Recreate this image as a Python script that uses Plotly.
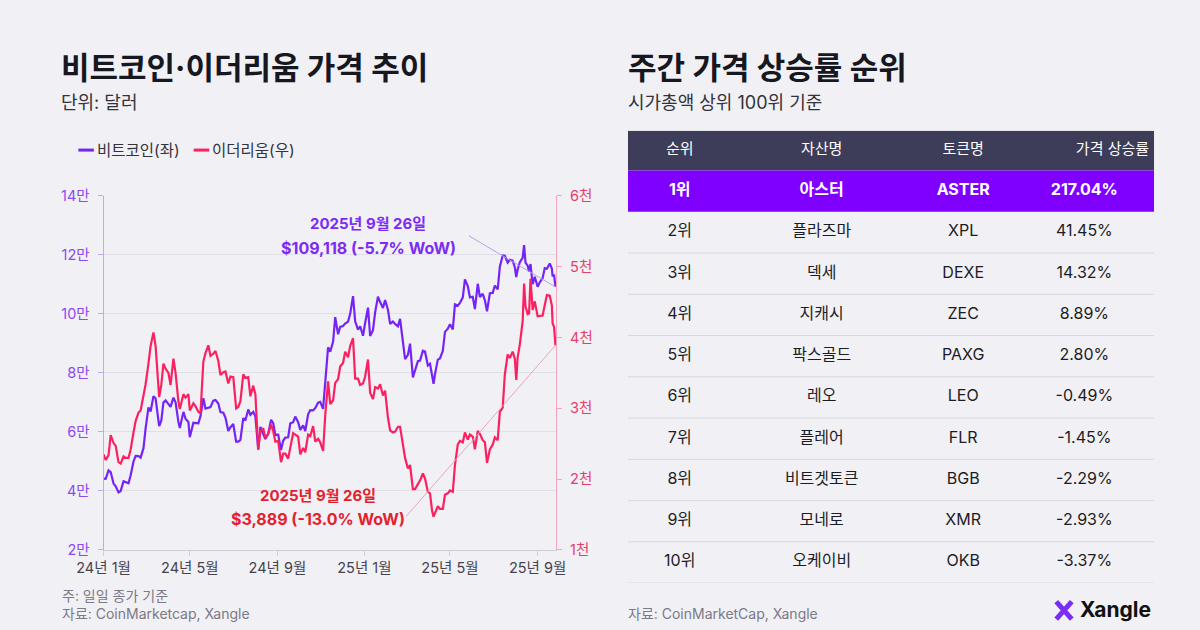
import plotly.graph_objects as go

W, H = 1200, 630


def px(x):
    return x / W


def py(y):
    return 1 - y / H


# ---------------- data ----------------
dates = (
    ["2024-01-01", "2024-01-04", "2024-01-08", "2024-01-11", "2024-01-15", "2024-01-18", "2024-01-22", "2024-01-25", "2024-01-29"]
    + ["2024-02-01", "2024-02-05", "2024-02-08", "2024-02-12", "2024-02-15", "2024-02-19", "2024-02-22", "2024-02-26", "2024-02-29"]
    + ["2024-03-04", "2024-03-07", "2024-03-11", "2024-03-14", "2024-03-19", "2024-03-22", "2024-03-25", "2024-03-28"]
    + ["2024-04-01", "2024-04-04", "2024-04-08", "2024-04-11", "2024-04-15", "2024-04-17", "2024-04-22", "2024-04-25", "2024-04-29"]
    + ["2024-05-01", "2024-05-06", "2024-05-09", "2024-05-13", "2024-05-16", "2024-05-20", "2024-05-23", "2024-05-27", "2024-05-30"]
    + ["2024-06-03", "2024-06-06", "2024-06-10", "2024-06-13", "2024-06-17", "2024-06-20", "2024-06-24", "2024-06-27"]
    + ["2024-07-01", "2024-07-05", "2024-07-08", "2024-07-11", "2024-07-15", "2024-07-18", "2024-07-22", "2024-07-25", "2024-07-29"]
    + ["2024-08-01", "2024-08-05", "2024-08-08", "2024-08-12", "2024-08-15", "2024-08-19", "2024-08-23", "2024-08-26", "2024-08-29"]
    + ["2024-09-02", "2024-09-06", "2024-09-09", "2024-09-12", "2024-09-16", "2024-09-19", "2024-09-23", "2024-09-26", "2024-09-30"]
    + ["2024-10-03", "2024-10-07", "2024-10-10", "2024-10-14", "2024-10-17", "2024-10-21", "2024-10-24", "2024-10-28", "2024-10-31"]
    + ["2024-11-04", "2024-11-07", "2024-11-11", "2024-11-14", "2024-11-18", "2024-11-21", "2024-11-25", "2024-11-28"]
    + ["2024-12-02", "2024-12-05", "2024-12-09", "2024-12-12", "2024-12-16", "2024-12-19", "2024-12-23", "2024-12-26", "2024-12-30"]
    + ["2025-01-02", "2025-01-06", "2025-01-09", "2025-01-13", "2025-01-16", "2025-01-20", "2025-01-23", "2025-01-27", "2025-01-30"]
    + ["2025-02-03", "2025-02-06", "2025-02-10", "2025-02-13", "2025-02-17", "2025-02-20", "2025-02-24", "2025-02-27"]
    + ["2025-03-03", "2025-03-06", "2025-03-10", "2025-03-13", "2025-03-17", "2025-03-20", "2025-03-24", "2025-03-27", "2025-03-31"]
    + ["2025-04-03", "2025-04-06", "2025-04-08", "2025-04-10", "2025-04-14", "2025-04-17", "2025-04-21", "2025-04-24", "2025-04-28"]
    + ["2025-05-01", "2025-05-05", "2025-05-08", "2025-05-12", "2025-05-15", "2025-05-19", "2025-05-22", "2025-05-26", "2025-05-29"]
    + ["2025-06-02", "2025-06-05", "2025-06-09", "2025-06-12", "2025-06-16", "2025-06-19", "2025-06-22", "2025-06-26", "2025-06-30"]
    + ["2025-07-03", "2025-07-07", "2025-07-10", "2025-07-14", "2025-07-17", "2025-07-21", "2025-07-24", "2025-07-28", "2025-07-31"]
    + ["2025-08-02", "2025-08-04", "2025-08-07", "2025-08-11", "2025-08-13", "2025-08-15", "2025-08-18", "2025-08-20", "2025-08-22", "2025-08-25", "2025-08-28"]
    + ["2025-09-01", "2025-09-04", "2025-09-08", "2025-09-11", "2025-09-14", "2025-09-18", "2025-09-21", "2025-09-22", "2025-09-24", "2025-09-26"]
)

btc_usd = (
    [44200, 44100, 47000, 46400, 42500, 41600, 39500, 40000, 43300]
    + [43100, 42600, 45300, 50000, 51900, 51800, 51300, 54500, 61200]
    + [68300, 66900, 72100, 71400, 62000, 63800, 70000, 70700]
    + [69600, 68500, 71600, 70000, 63400, 61300, 66800, 64500, 63400]
    + [58200, 63100, 63000, 62900, 65300, 71400, 67900, 68300, 68400]
    + [70600, 70800, 69600, 66700, 66500, 64900, 60300, 61600]
    + [62700, 56700, 56700, 57300, 64700, 63900, 67600, 65800, 66800]
    + [65300, 54000, 61700, 59300, 57600, 59400, 64100, 63000, 59000]
    + [59100, 53900, 57000, 58100, 58200, 62900, 63300, 65200, 63300]
    + [60700, 62200, 60300, 66000, 67400, 67300, 68100, 69900, 70200]
    + [67800, 76500, 88700, 87200, 90500, 98900, 93100, 95600]
    + [95900, 96700, 97400, 100000, 106000, 97500, 94700, 95800, 92600]
    + [96900, 102100, 92500, 94500, 100500, 105800, 104000, 102000, 104700]
    + [101400, 96600, 97400, 96600, 95800, 98300, 91400, 84700]
    + [86100, 89900, 78500, 80900, 84000, 84200, 87500, 87200, 82500]
    + [83100, 78200, 76300, 79600, 84500, 84900, 87500, 93900, 95000]
    + [96500, 94700, 103200, 102800, 103700, 105600, 111700, 109400, 105600]
    + [105800, 101600, 110200, 105700, 106800, 104600, 100900, 107000, 107100]
    + [109600, 108300, 116000, 119800, 119700, 117400, 118300, 118000, 115800]
    + [112500, 115000, 117500, 119000, 123300, 117400, 116300, 114300, 116900, 110100, 112600]
    + [109200, 110700, 112100, 115500, 115300, 117100, 115300, 112700, 113300, 109118]
)

eth_usd = (
    [2350, 2270, 2340, 2620, 2510, 2470, 2240, 2220, 2320]
    + [2300, 2300, 2420, 2660, 2820, 2940, 2970, 3180, 3340]
    + [3630, 3880, 4070, 3880, 3160, 3330, 3630, 3560]
    + [3500, 3330, 3700, 3500, 3100, 2990, 3200, 3150, 3200]
    + [2970, 3070, 3030, 2950, 2930, 3660, 3780, 3890, 3740]
    + [3770, 3810, 3670, 3470, 3510, 3520, 3350, 3450]
    + [3440, 3000, 3020, 3100, 3480, 3430, 3440, 3170, 3320]
    + [3200, 2420, 2680, 2720, 2580, 2640, 2770, 2680, 2530]
    + [2540, 2240, 2360, 2360, 2290, 2460, 2650, 2630, 2600]
    + [2350, 2440, 2380, 2630, 2610, 2750, 2530, 2570, 2520]
    + [2400, 2900, 3380, 3060, 3110, 3360, 3410, 3590]
    + [3640, 3800, 3720, 3880, 3990, 3420, 3420, 3330, 3350]
    + [3450, 3690, 3220, 3130, 3300, 3280, 3340, 3180, 3250]
    + [2870, 2690, 2660, 2670, 2740, 2740, 2500, 2300]
    + [2150, 2200, 1860, 1860, 1930, 1980, 2080, 2010, 1820]
    + [1800, 1550, 1470, 1520, 1620, 1580, 1580, 1780, 1800]
    + [1840, 1820, 2200, 2490, 2540, 2520, 2660, 2560, 2630]
    + [2600, 2420, 2680, 2640, 2550, 2520, 2230, 2420, 2490]
    + [2590, 2550, 2950, 3010, 3480, 3760, 3710, 3800, 3700]
    + [3400, 3720, 3900, 4230, 4760, 4440, 4330, 4340, 4830, 4390, 4510]
    + [4300, 4300, 4310, 4460, 4600, 4590, 4450, 4200, 4150, 3889]
)

assert len(dates) == len(btc_usd) == len(eth_usd)

btc_wow = -5.7
eth_wow = -13.0
last_date_label = "2025년 9월 26일"

x_tick_dates = ["2024-01-01", "2024-05-01", "2024-09-01", "2025-01-01", "2025-05-01", "2025-09-01"]
x_tick_labels = ["24년 1월", "24년 5월", "24년 9월", "25년 1월", "25년 5월", "25년 9월"]
btc_ticks = [20000, 40000, 60000, 80000, 100000, 120000, 140000]
btc_tick_labels = ["2만", "4만", "6만", "8만", "10만", "12만", "14만"]
eth_ticks = [1000, 2000, 3000, 4000, 5000, 6000]
eth_tick_labels = ["1천", "2천", "3천", "4천", "5천", "6천"]

table_headers = ["순위", "자산명", "토큰명", "가격 상승률"]
ranks = ["1위", "2위", "3위", "4위", "5위", "6위", "7위", "8위", "9위", "10위"]
asset_names = ["아스터", "플라즈마", "덱세", "지캐시", "팍스골드", "레오", "플레어", "비트겟토큰", "모네로", "오케이비"]
tokens = ["ASTER", "XPL", "DEXE", "ZEC", "PAXG", "LEO", "FLR", "BGB", "XMR", "OKB"]
weekly_returns = [217.04, 41.45, 14.32, 8.89, 2.80, -0.49, -1.45, -2.29, -2.93, -3.37]

# ---------------- styles ----------------
FONT = "Inter, 'Noto Sans CJK KR', sans-serif"
BG = "#f1f0f5"
BTC_C = "#7424f5"
ETH_C = "#fb2160"
DARK = "#17171f"

fig = go.Figure()

fig.add_trace(go.Scatter(x=dates, y=btc_usd, mode="lines", name="비트코인(좌)",
                         line=dict(color=BTC_C, width=2.2), yaxis="y", xaxis="x",
                         hoverinfo="skip", showlegend=False))
fig.add_trace(go.Scatter(x=dates, y=eth_usd, mode="lines", name="이더리움(우)",
                         line=dict(color=ETH_C, width=2.2), yaxis="y2", xaxis="x",
                         hoverinfo="skip", showlegend=False))

# ---------------- table (on its own axes) ----------------
TW = 543.0
HEAD_H = 41.0
ROW_H = 42.4
n_rows = len(ranks)
total_h = HEAD_H + ROW_H * n_rows
head_x = [53.5, 200, 346, 500]
col_x = [53.5, 200, 346, 471]
row_y = [HEAD_H + ROW_H * (i + 0.5) for i in range(n_rows)]
value_text = [f"{v:.2f}%" for v in weekly_returns]
columns = [ranks, asset_names, tokens, value_text]

fig.add_trace(go.Scatter(x=head_x, y=[HEAD_H / 2] * 4, text=table_headers, mode="text",
                         textfont=dict(family=FONT, size=15, color="#ffffff"),
                         xaxis="x3", yaxis="y3", hoverinfo="skip", showlegend=False, cliponaxis=False))
for j, col in enumerate(columns):
    fig.add_trace(go.Scatter(x=[col_x[j]], y=[row_y[0]], text=[f"<b>{col[0]}</b>"], mode="text",
                             textfont=dict(family=FONT, size=16, color="#ffffff"),
                             xaxis="x3", yaxis="y3", hoverinfo="skip", showlegend=False, cliponaxis=False))
    fig.add_trace(go.Scatter(x=[col_x[j]] * (n_rows - 1), y=row_y[1:], text=col[1:], mode="text",
                             textfont=dict(family=FONT, size=16, color="#1c1c24"),
                             xaxis="x3", yaxis="y3", hoverinfo="skip", showlegend=False, cliponaxis=False))

shapes = [
    dict(type="rect", xref="x3", yref="y3", x0=0, x1=TW, y0=0, y1=HEAD_H,
         fillcolor="#3d3d5a", line=dict(width=0), layer="below"),
    dict(type="rect", xref="x3", yref="y3", x0=0, x1=TW, y0=HEAD_H, y1=HEAD_H + ROW_H,
         fillcolor="#7f00ff", line=dict(width=0), layer="below"),
]
for i in range(2, n_rows + 1):
    yy = HEAD_H + ROW_H * i
    shapes.append(dict(type="line", xref="x3", yref="y3", x0=0, x1=TW, y0=yy, y1=yy,
                       line=dict(color="#d8d7de", width=1), layer="below"))

# legend (manual, to match short swatches)
shapes.append(dict(type="line", xref="paper", yref="paper", x0=px(53), x1=px(69), y0=py(145), y1=py(145),
                   line=dict(color=BTC_C, width=3)))
shapes.append(dict(type="line", xref="paper", yref="paper", x0=px(172), x1=px(188), y0=py(145), y1=py(145),
                   line=dict(color=ETH_C, width=3)))
# Xangle logo mark
shapes.append(dict(type="line", xref="paper", yref="paper", x0=px(1062), x1=px(1078), y0=py(609), y1=py(627),
                   line=dict(color="#7b2cf5", width=5)))
shapes.append(dict(type="line", xref="paper", yref="paper", x0=px(1078), x1=px(1062), y0=py(609), y1=py(627),
                   line=dict(color="#7b2cf5", width=5)))

ann = []


def txt(x, y, text, size, color, xanchor="left", yanchor="middle", bold=False):
    ann.append(dict(xref="paper", yref="paper", x=px(x), y=py(y), text=f"<b>{text}</b>" if bold else text,
                    showarrow=False, xanchor=xanchor, yanchor=yanchor,
                    font=dict(family=FONT, size=size, color=color)))


txt(33, 60, "비트코인·이더리움 가격 추이", 31, DARK, bold=True)
txt(33, 96, "단위: 달러", 18, "#33333b")
txt(618, 60, "주간 가격 상승률 순위", 31, DARK, bold=True)
txt(618, 96, "시가총액 상위 100위 기준", 18, "#33333b")
txt(70, 145, "비트코인(좌)", 15.5, "#33333b")
txt(189, 145, "이더리움(우)", 15.5, "#33333b")
txt(34, 603, "주: 일일 종가 기준", 14, "#7b7a86")
txt(34, 621, "자료: CoinMarketcap, Xangle", 14, "#7b7a86")
txt(618, 621, "자료: CoinMarketCap, Xangle", 14, "#7b7a86")
txt(1084, 617, "Xangle", 21, "#111111", bold=True)

# value call-outs
txt(352, 220, last_date_label, 15, "#7b2cf2", xanchor="center", bold=True)
txt(352, 246, f"${btc_usd[-1]:,} ({btc_wow:.1f}% WoW)", 16, "#7b2cf2", xanchor="center", bold=True)
txt(300, 500, last_date_label, 15, "#e3212d", xanchor="center", bold=True)
txt(300, 524, f"${eth_usd[-1]:,} ({eth_wow:.1f}% WoW)", 16, "#e3212d", xanchor="center", bold=True)

# leader lines to the last points
ann.append(dict(xref="x", yref="y", x=dates[-1], y=btc_usd[-1], text="", showarrow=True,
                arrowhead=0, arrowwidth=1, arrowcolor="#b7a2e3", ax=-88, ay=-52, standoff=0))
ann.append(dict(xref="x", yref="y2", x=dates[-1], y=eth_usd[-1], text="", showarrow=True,
                arrowhead=0, arrowwidth=1, arrowcolor="#eaa6b9", ax=-151, ay=173, standoff=0))

fig.update_layout(
    width=W, height=H,
    margin=dict(l=0, r=0, t=0, b=0, pad=0),
    paper_bgcolor=BG, plot_bgcolor=BG,
    font=dict(family=FONT, size=14, color="#333"),
    showlegend=False,
    hovermode=False,
    shapes=shapes,
    annotations=ann,
    xaxis=dict(domain=[px(79), px(546)], type="date", range=["2024-01-01", "2025-09-27"],
               tickvals=x_tick_dates, ticktext=x_tick_labels, showgrid=False, zeroline=False,
               showline=True, linecolor="#cfcdd8", linewidth=1, ticks="outside", ticklen=5,
               tickcolor="#cfcdd8", tickfont=dict(family=FONT, size=14.5, color="#45444d"),
               anchor="y", fixedrange=True),
    yaxis=dict(domain=[py(556), py(192)], range=[20000, 140000], tickvals=btc_ticks,
               ticktext=btc_tick_labels, showgrid=True, gridcolor="#e1e0e8", gridwidth=1,
               zeroline=False, showline=True, linecolor="#c6a6f6", linewidth=1, ticks="outside",
               ticklen=5, tickcolor="#c6a6f6", ticklabelstandoff=5,
               tickfont=dict(family=FONT, size=14.5, color="#8c4af0"), anchor="x", fixedrange=True),
    yaxis2=dict(domain=[py(556), py(192)], range=[1000, 6000], tickvals=eth_ticks,
                ticktext=eth_tick_labels, overlaying="y", side="right", anchor="x", showgrid=False,
                zeroline=False, showline=True, linecolor="#f3a4bc", linewidth=1, ticks="outside",
                ticklen=5, tickcolor="#f3a4bc", ticklabelstandoff=5,
                tickfont=dict(family=FONT, size=14.5, color="#e63d6c"), fixedrange=True),
    xaxis3=dict(domain=[px(620), px(1163)], range=[0, TW], visible=False, anchor="y3", fixedrange=True),
    yaxis3=dict(domain=[py(125 + total_h), py(125)], range=[total_h, 0], visible=False, anchor="x3",
                fixedrange=True),
)

post = (
    "document.documentElement.style.margin='0';"
    "document.body.style.margin='0';"
    "document.body.style.overflow='hidden';"
)

fig.write_html("out.html", config={"displayModeBar": False}, post_script=post)
